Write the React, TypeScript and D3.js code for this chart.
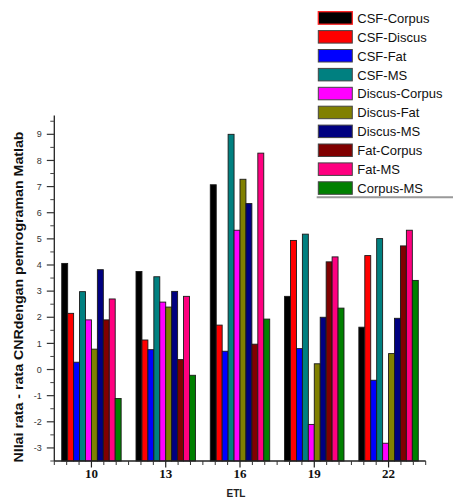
import React from "react";
import * as d3 from "d3";

const categories = [10, 13, 16, 19, 22];
const seriesNames = [
  "CSF-Corpus", "CSF-Discus", "CSF-Fat", "CSF-MS", "Discus-Corpus",
  "Discus-Fat", "Discus-MS", "Fat-Corpus", "Fat-MS", "Corpus-MS",
];
const seriesColors = [
  "#000000", "#FF0000", "#0000FF", "#008080", "#FF00FF",
  "#808000", "#000080", "#800000", "#FF0080", "#008000",
];
const csfCorpus = [4.06, 3.75, 7.07, 2.8, 1.62];
const csfDiscus = [2.15, 1.13, 1.7, 4.94, 4.36];
const csfFat = [0.28, 0.76, 0.7, 0.8, -0.41];
const csfMS = [2.98, 3.55, 9.0, 5.18, 5.01];
const discusCorpus = [1.9, 2.58, 5.33, -2.1, -2.82];
const discusFat = [0.78, 2.39, 7.28, 0.22, 0.61];
const discusMS = [3.82, 2.99, 6.35, 2.0, 1.96];
const fatCorpus = [1.9, 0.38, 0.97, 4.12, 4.73];
const fatMS = [2.7, 2.8, 8.28, 4.31, 5.33];
const corpusMS = [-1.11, -0.22, 1.93, 2.35, 3.41];
const seriesValues = [csfCorpus, csfDiscus, csfFat, csfMS, discusCorpus, discusFat, discusMS, fatCorpus, fatMS, corpusMS];
const yTicks = [-3, -2, -1, 0, 1, 2, 3, 4, 5, 6, 7, 8, 9];
const yTitle = "NIlai rata - rata CNRdengan pemrograman Matlab";
const xTitle = "ETL";

export default function App() {
  const W = 453, H = 503;
  const x = d3.scaleLinear().domain([8.5, 23.5]).range([54.3, 425.7]);
  const y = d3.scaleLinear().domain([-3.5, 9.72]).range([461, 115.5]);
  const groupW = x(10 + 2.4) - x(10);
  const band = d3.scaleBand<number>().domain(d3.range(seriesNames.length)).range([-groupW / 2, groupW / 2]).padding(0);
  const yMinor = d3.range(-3.5, 9.6, 0.5).filter((v) => Math.abs(v - Math.round(v)) > 0.01);
  const xMinor = d3.range(8.5, 23.51, 0.5).filter((v) => !categories.includes(v));
  const base = y(-3.5);
  const legendX = 318.3, legendY0 = 11.7, legendStep = 18.9;
  return (
    <svg width={W} height={H} style={{ position: "absolute", left: 0, top: 0, background: "#fff" }}>
      <rect x={0} y={0} width={W} height={H} fill="#fff" />
      {/* bars */}
      {categories.map((c, ci) => (
        <g key={c}>
          {seriesValues.map((vals, si) => {
            const v = vals[ci];
            const bx = x(c) + (band(si) as number);
            return (
              <rect key={si} x={bx} y={y(v)} width={band.bandwidth()} height={base - y(v)}
                fill={seriesColors[si]} stroke="#1a1a1a" strokeWidth={0.9} />
            );
          })}
        </g>
      ))}
      {/* y axis */}
      <line x1={x(8.5)} x2={x(8.5)} y1={y(9.72)} y2={base} stroke="#222" strokeWidth={1.3} />
      {yTicks.map((t) => (
        <g key={t}>
          <line x1={x(8.5) - 7.5} x2={x(8.5)} y1={y(t)} y2={y(t)} stroke="#333" strokeWidth={1.2} />
          <text x={41.7} y={y(t)} dy="0.35em" textAnchor="end" fontFamily="Liberation Sans, Arial, sans-serif"
            fontSize={9} fill="#333">{t}</text>
        </g>
      ))}
      {yMinor.map((t) => (
        <line key={t} x1={x(8.5) - 4} x2={x(8.5)} y1={y(t)} y2={y(t)} stroke="#444" strokeWidth={1} />
      ))}
      {/* x axis */}
      <line x1={x(8.5)} x2={x(23.5)} y1={base} y2={base} stroke="#222" strokeWidth={1.3} />
      {categories.map((c) => (
        <g key={c}>
          <line x1={x(c)} x2={x(c)} y1={base} y2={base + 6.5} stroke="#222" strokeWidth={1.2} />
          <text x={x(c)} y={473} dy="0.35em" textAnchor="middle" fontFamily="Liberation Serif, Times New Roman, serif"
            fontWeight="bold" fontSize={13} fill="#111">{c}</text>
        </g>
      ))}
      {xMinor.map((t) => (
        <line key={t} x1={x(t)} x2={x(t)} y1={base} y2={base + 4} stroke="#333" strokeWidth={1} />
      ))}
      {/* titles */}
      <text transform={`translate(23.3, 297) rotate(-90)`} textAnchor="middle"
        fontFamily="Liberation Sans, Arial, sans-serif" fontWeight="bold" fontSize={13.5}
        textLength={331} lengthAdjust="spacingAndGlyphs" fill="#111">{yTitle}</text>
      <text x={236} y={493} dy="0.35em" textAnchor="middle" fontFamily="Liberation Sans, Arial, sans-serif"
        fontWeight="bold" fontSize={10} fill="#222">{xTitle}</text>
      {/* legend */}
      {seriesNames.map((n, i) => (
        <g key={n}>
          <rect x={legendX} y={legendY0 + i * legendStep} width={34} height={12.5} fill={seriesColors[i]}
            stroke={i === 0 ? "#ff2020" : "#444"} strokeWidth={i === 0 ? 1.3 : 1} />
          <text x={357.3} y={legendY0 + i * legendStep + 6.5} dy="0.36em" fontFamily="Liberation Sans, Arial, sans-serif"
            fontSize={13} fill="#111">{n}</text>
        </g>
      ))}
      <line x1={316.7} x2={453} y1={197.3} y2={197.3} stroke="#999" strokeWidth={2} />
    </svg>
  );
}
